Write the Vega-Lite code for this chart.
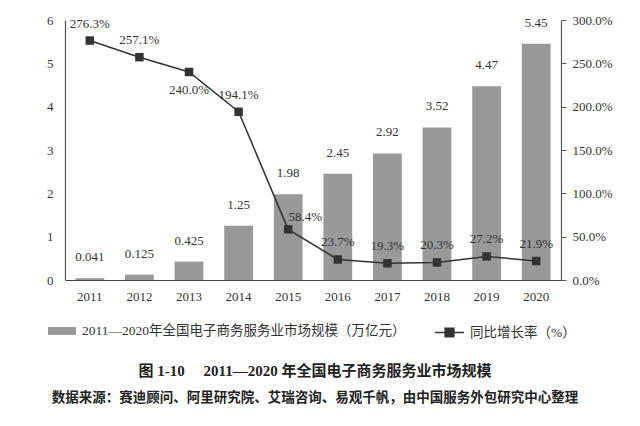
{
  "$schema": "https://vega.github.io/schema/vega-lite/v6.json",
  "width": 496,
  "height": 260,
  "autosize": {"type": "none"},
  "padding": {"left": 65, "top": 20, "right": 79, "bottom": 146},
  "background": "white",
  "config": {
    "view": {"stroke": null},
    "font": "Liberation Serif",
    "axis": {
      "grid": false,
      "labelFont": "Liberation Serif",
      "labelFontSize": 13,
      "labelColor": "#333333",
      "domainColor": "#555555",
      "domainWidth": 1.2,
      "tickColor": "#555555",
      "title": null
    },
    "legend": {
      "labelFont": "Liberation Serif, Noto Sans CJK SC",
      "labelFontSize": 13.5,
      "labelColor": "#333333",
      "labelLimit": 0
    }
  },
  "title": {
    "text": "图 1-10　 2011—2020 年全国电子商务服务业市场规模",
    "subtitle": "数据来源：赛迪顾问、阿里研究院、艾瑞咨询、易观千帆，由中国服务外包研究中心整理",
    "orient": "bottom",
    "anchor": "middle",
    "frame": "group",
    "offset": 24,
    "dx": 2,
    "font": "Liberation Serif, Noto Sans CJK SC",
    "fontSize": 15,
    "fontWeight": "bold",
    "color": "#222222",
    "subtitleFont": "Liberation Serif, Noto Sans CJK SC",
    "subtitleFontSize": 13.5,
    "subtitleFontWeight": "bold",
    "subtitleColor": "#222222",
    "subtitlePadding": 12
  },
  "data": {
    "values": [
      {"year": "2011", "size": 0.041, "rate": 2.763},
      {"year": "2012", "size": 0.125, "rate": 2.571},
      {"year": "2013", "size": 0.425, "rate": 2.4},
      {"year": "2014", "size": 1.25, "rate": 1.941},
      {"year": "2015", "size": 1.98, "rate": 0.584},
      {"year": "2016", "size": 2.45, "rate": 0.237},
      {"year": "2017", "size": 2.92, "rate": 0.193},
      {"year": "2018", "size": 3.52, "rate": 0.203},
      {"year": "2019", "size": 4.47, "rate": 0.272},
      {"year": "2020", "size": 5.45, "rate": 0.219}
    ]
  },
  "encoding": {
    "x": {
      "field": "year",
      "type": "nominal",
      "scale": {"paddingInner": 0.42, "paddingOuter": 0.21},
      "axis": {"labelAngle": 0, "ticks": false, "labelPadding": 10, "domainColor": "#444444"}
    }
  },
  "layer": [
    {
      "layer": [
        {
          "mark": {"type": "bar", "color": "#999999"},
          "encoding": {
            "y": {
              "field": "size",
              "type": "quantitative",
              "scale": {"domain": [0, 6]},
              "axis": {"values": [0, 1, 2, 3, 4, 5, 6], "ticks": false, "labelPadding": 12, "orient": "left"}
            },
            "color": {
              "datum": "2011—2020年全国电子商务服务业市场规模（万亿元）",
              "scale": {"range": ["#999999"]},
              "legend": {
                "orient": "none",
                "legendX": -17,
                "legendY": 297,
                "title": null,
                "symbolType": "M-1,-0.28H1V0.28H-1Z",
                "symbolSize": 784,
                "symbolStrokeWidth": 0,
                "labelOffset": 6
              }
            }
          }
        },
        {
          "mark": {"type": "text", "baseline": "middle", "dy": -21, "fontSize": 13, "color": "#333333", "font": "Liberation Serif"},
          "encoding": {
            "y": {"field": "size", "type": "quantitative"},
            "text": {"field": "size", "type": "quantitative"}
          }
        }
      ]
    },
    {
      "layer": [
        {
          "mark": {"type": "line", "color": "#333333", "strokeWidth": 1.5},
          "encoding": {
            "y": {
              "field": "rate",
              "type": "quantitative",
              "scale": {"domain": [0, 3]},
              "axis": {"orient": "right", "values": [0, 0.5, 1, 1.5, 2, 2.5, 3], "format": ".1%", "tickSize": 5, "labelPadding": 6}
            },
            "stroke": {
              "datum": "同比增长率（%）",
              "scale": {"range": ["#333333"]},
              "legend": {
                "orient": "none",
                "legendX": 369,
                "legendY": 297,
                "title": null,
                "symbolType": "M-1,0H1M-0.3,-0.3H0.3V0.3H-0.3Z",
                "symbolSize": 841,
                "symbolStrokeWidth": 1.5,
                "symbolFillColor": "#333333",
                "symbolStrokeColor": "#333333",
                "labelOffset": 5
              }
            }
          }
        },
        {
          "mark": {"type": "point", "shape": "square", "filled": true, "size": 72, "color": "#333333", "opacity": 1},
          "encoding": {"y": {"field": "rate", "type": "quantitative"}}
        },
        {
          "transform": [{"filter": "datum.year != '2013' && datum.year != '2015'"}],
          "mark": {"type": "text", "baseline": "middle", "dy": -17, "fontSize": 13, "color": "#333333", "font": "Liberation Serif"},
          "encoding": {
            "y": {"field": "rate", "type": "quantitative"},
            "text": {"field": "rate", "type": "quantitative", "format": ".1%"}
          }
        },
        {
          "transform": [{"filter": "datum.year == '2013'"}],
          "mark": {"type": "text", "baseline": "middle", "dy": 18, "fontSize": 13, "color": "#333333", "font": "Liberation Serif"},
          "encoding": {
            "y": {"field": "rate", "type": "quantitative"},
            "text": {"field": "rate", "type": "quantitative", "format": ".1%"}
          }
        },
        {
          "transform": [{"filter": "datum.year == '2015'"}],
          "mark": {"type": "text", "baseline": "middle", "dx": 17, "dy": -12, "fontSize": 13, "color": "#333333", "font": "Liberation Serif"},
          "encoding": {
            "y": {"field": "rate", "type": "quantitative"},
            "text": {"field": "rate", "type": "quantitative", "format": ".1%"}
          }
        }
      ]
    }
  ],
  "resolve": {"scale": {"y": "independent"}}
}
